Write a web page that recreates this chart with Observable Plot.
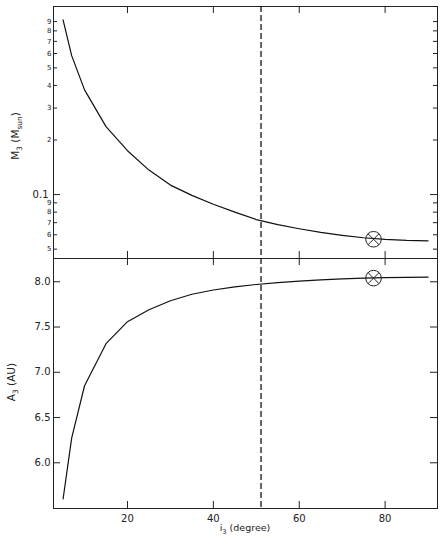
<!DOCTYPE html>
<html><head><meta charset="utf-8">
<script src="https://cdn.jsdelivr.net/npm/d3@7"></script>
<script src="https://cdn.jsdelivr.net/npm/@observablehq/plot@0.6"></script>
<style>
body{margin:0;background:#fff;font-family:"DejaVu Sans",sans-serif}
#chart svg{display:block;overflow:visible}
</style>
</head><body><div id="chart"></div>
<script>
// ---- data ----
const inclination = [5,7,10,15,20,25,30,35,40,45,50,55,60,65,70,75,80,85,90];
const massM3 = [0.92,0.584,0.378,0.237,0.1746,0.1365,0.1128,0.099,0.0885,0.080,0.0728,0.0682,0.0648,0.0618,0.0596,0.0578,0.0566,0.0559,0.0556];
const semiA3 = [5.60,6.273,6.851,7.316,7.559,7.691,7.79,7.862,7.909,7.943,7.970,7.991,8.008,8.021,8.032,8.040,8.045,8.049,8.051];
const xTicks = [20,40,60,80];
const massMajorTicks = [0.1];
const massMajorLabels = ["0.1"];
const massMinorTicks = [0.05,0.06,0.07,0.08,0.09,0.2,0.3,0.4,0.5,0.6,0.7,0.8,0.9];
const massMinorLabels = ["5","6","7","8","9","2","3","4","5","6","7","8","9"];
const aTicks = [6.0,6.5,7.0,7.5,8.0];
const aTickLabels = ["6.0","6.5","7.0","7.5","8.0"];
const dashedI = [51.1];
const markerI = [77.3];
const markerM = [0.0567];
const markerA = [8.04];
const xDomain = [2.77, 92.2];
const mDomain = [0.0444, 1.09];
const aDomain = [5.495, 8.257];

// ---- layout ----
const W = 445, ML = 53, MR = 8;
const innerW = W - ML - MR;
const topH = 258, topMT = 6, topInnerH = topH - topMT;
const botH = 292, botMB = 42, botInnerH = botH - botMB;
const ink = "#222";
const font = "DejaVu Sans, sans-serif";

const massRows = inclination.map((i, k) => ({i, v: massM3[k]}));
const aRows = inclination.map((i, k) => ({i, v: semiA3[k]}));
const markTop = markerI.map((i, k) => ({i, v: markerM[k]}));
const markBot = markerI.map((i, k) => ({i, v: markerA[k]}));

function xTickMarks(innerH, len) {
  return [
    Plot.tickX(xTicks, {x: d => d, insetTop: innerH - len, stroke: ink}),
    Plot.tickX(xTicks, {x: d => d, insetBottom: innerH - len, stroke: ink})
  ];
}
function yTickMarks(ticks, len) {
  return [
    Plot.tickY(ticks, {y: d => d, insetRight: innerW - len, stroke: ink}),
    Plot.tickY(ticks, {y: d => d, insetLeft: innerW - len, stroke: ink})
  ];
}
function yLabels(ticks, labels, size, pad) {
  return Plot.text(ticks, {y: d => d, text: (d, k) => labels[k], frameAnchor: "left", textAnchor: "end",
    dx: -pad, fontSize: size, fill: ink});
}
function commonMarks(rows, marks) {
  return [
    Plot.ruleX(dashedI, {x: d => d, stroke: "#000", strokeWidth: 1.2, strokeDasharray: "6,3"}),
    Plot.line(rows, {x: "i", y: "v", stroke: "#111", strokeWidth: 1.2}),
    Plot.dot(marks, {x: "i", y: "v", r: 7.8, stroke: ink, fill: "none", strokeWidth: 1}),
    Plot.dot(marks, {x: "i", y: "v", r: 5, symbol: "times", stroke: ink, strokeWidth: 1})
  ];
}
const style = {overflow: "visible", background: "transparent", fontFamily: font, color: ink};

const topPlot = Plot.plot({
  width: W, height: topH, marginTop: topMT, marginBottom: 0, marginLeft: ML, marginRight: MR,
  style,
  x: {domain: xDomain, axis: null},
  y: {type: "log", domain: mDomain, axis: null},
  marks: [
    Plot.frame({stroke: ink}),
    ...xTickMarks(topInnerH, 7),
    ...yTickMarks(massMinorTicks, 4),
    ...yTickMarks(massMajorTicks, 7),
    yLabels(massMinorTicks, massMinorLabels, 7, 2),
    yLabels(massMajorTicks, massMajorLabels, 10, 5),
    ...commonMarks(massRows, markTop)
  ]
});

const botPlot = Plot.plot({
  width: W, height: botH, marginTop: 0, marginBottom: botMB, marginLeft: ML, marginRight: MR,
  style,
  x: {domain: xDomain},
  y: {domain: aDomain, axis: null},
  marks: [
    Plot.frame({stroke: ink}),
    ...xTickMarks(botInnerH, 7),
    ...yTickMarks(aTicks, 7),
    yLabels(aTicks, aTickLabels, 10, 3),
    Plot.axisX(xTicks, {anchor: "bottom", tickSize: 0, tickPadding: 6, fontSize: 10, label: null, fill: ink}),
    ...commonMarks(aRows, markBot)
  ]
});

const chart = document.getElementById("chart");
chart.appendChild(topPlot);
chart.appendChild(botPlot);

// axis titles with subscripts
function title(svg, tx, ty, rot, parts, size) {
  const t = d3.select(svg).append("text")
    .attr("transform", `translate(${tx},${ty})` + (rot ? ` rotate(${rot})` : ""))
    .attr("text-anchor", "middle")
    .attr("font-family", font)
    .attr("font-size", size)
    .attr("fill", ink);
  let shift = 0;
  for (const [txt, sub] of parts) {
    const target = sub ? 3 : 0;
    t.append("tspan").attr("dy", target - shift).attr("font-size", sub ? size * 0.7 : size).text(txt);
    shift = target;
  }
}
title(topPlot, 19, 136, -90, [["M", false], ["3", true], [" (M", false], ["sun", true], [")", false]], 10.5);
title(botPlot, 15, 382 - topH, -90, [["A", false], ["3", true], [" (AU)", false]], 10.5);
title(botPlot, 245, 531 - topH, 0, [["i", false], ["3", true], [" (degree)", false]], 9.5);
</script>
</body></html>
